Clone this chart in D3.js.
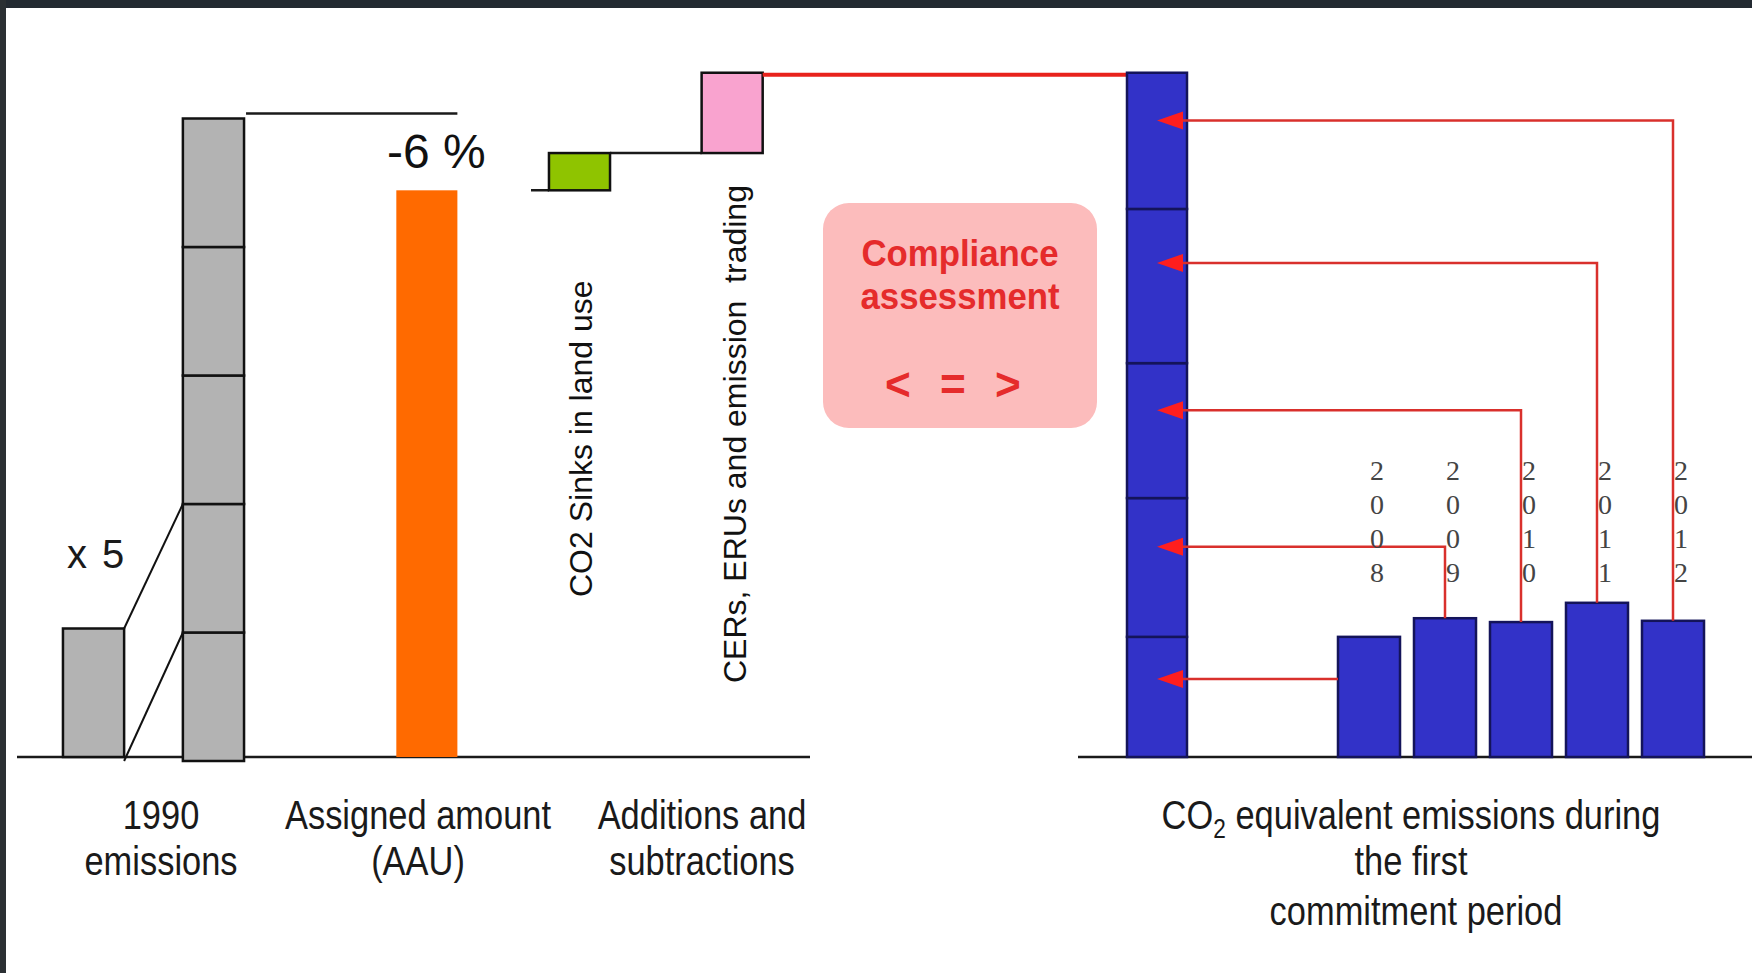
<!DOCTYPE html>
<html><head><meta charset="utf-8">
<script src="https://cdn.jsdelivr.net/npm/d3@7"></script>
<style>html,body{margin:0;padding:0;background:#fff;overflow:hidden}svg{display:block}</style>
</head><body>
<svg id="chart" width="1752" height="973"></svg>
<script>
// ---------------- data ----------------
const baseCategories = ["1990", "1990 x 5"];
const baseEmission = [100];
const fiveYearSegments = [100, 100, 100, 100, 100];
const waterfallCategories = ["AAU", "Sinks", "Trading"];
const waterfallValues = [441, 29, 62.5];
const years = ["2008", "2009", "2010", "2011", "2012"];
const yearValues = [93.5, 108, 105, 120, 106];
const reductionLabel = "-6 %";
const multiplierLabel = "x 5";
const leftAxisLabels = [["1990", "emissions"], ["Assigned amount", "(AAU)"], ["Additions and", "subtractions"]];
const rotatedLabels = ["CO2 Sinks in land use", "CERs, ERUs and emission\u00a0 trading"];
const rightAxisLines = ["the first", "commitment period"];
const complianceLabels = ["Compliance", "assessment", "<\u00a0=\u00a0>"];

// ---------------- scales ----------------
const svg = d3.select("#chart");
const FONT = "'Liberation Sans', Arial, Helvetica, sans-serif";
const y = d3.scaleLinear().domain([0, 100]).range([757, 628.5]);
const xBase = d3.scaleBand().domain(baseCategories).range([3, 304]).paddingInner(0.49).paddingOuter(0.5);
const xFall = d3.scaleBand().domain(waterfallCategories).range([320, 839]).paddingInner(0.6).paddingOuter(0.5);
const xTotal = d3.scaleBand().domain(["total"]).range([1127, 1187]);
const xYear = d3.scaleBand().domain(years).range([1331, 1711]).paddingInner(0.184).paddingOuter(0.092);

// ---------------- frame ----------------
svg.append("rect").attr("x", 0).attr("y", 0).attr("width", 1752).attr("height", 973).attr("fill", "#ffffff");
svg.append("rect").attr("x", 0).attr("y", 0).attr("width", 1752).attr("height", 8).attr("fill", "#232a31");
svg.append("rect").attr("x", 0).attr("y", 0).attr("width", 6).attr("height", 973).attr("fill", "#2b3033");

// ---------------- baselines ----------------
svg.append("line").attr("x1", 17).attr("x2", 810).attr("y1", y(0)).attr("y2", y(0))
  .attr("stroke", "#1a1a1a").attr("stroke-width", 2.5);
svg.append("line").attr("x1", 1078).attr("x2", 1752).attr("y1", y(0)).attr("y2", y(0))
  .attr("stroke", "#1a1a1a").attr("stroke-width", 2.5);

// ---------------- 1990 emissions ----------------
const bwB = xBase.bandwidth();
const tallOffset = 4;
svg.append("rect").attr("x", xBase("1990")).attr("y", y(baseEmission[0]))
  .attr("width", bwB).attr("height", y(0) - y(baseEmission[0]))
  .attr("fill", "#b3b3b3").attr("stroke", "#111").attr("stroke-width", 2.5);
const tallCum = d3.cumsum(fiveYearSegments);
svg.selectAll(".tall").data(fiveYearSegments).join("rect")
  .attr("x", xBase("1990 x 5"))
  .attr("y", (d, i) => y(tallCum[i]) + tallOffset)
  .attr("width", bwB)
  .attr("height", (d, i) => y(tallCum[i] - d) - y(tallCum[i]))
  .attr("fill", "#b3b3b3").attr("stroke", "#111").attr("stroke-width", 2.5);
// projection lines
const sx = xBase("1990") + bwB, tx = xBase("1990 x 5");
svg.append("line").attr("x1", sx).attr("y1", y(baseEmission[0])).attr("x2", tx).attr("y2", y(tallCum[1]) + tallOffset)
  .attr("stroke", "#111").attr("stroke-width", 2);
svg.append("line").attr("x1", sx).attr("y1", y(0) + tallOffset).attr("x2", tx).attr("y2", y(tallCum[0]) + tallOffset)
  .attr("stroke", "#111").attr("stroke-width", 2);
svg.append("text").attr("x", 67).attr("y", 568).attr("font-family", FONT).attr("font-size", 40)
  .attr("word-spacing", 4).attr("fill", "#1a1a1a").text(multiplierLabel);

// ---------------- waterfall ----------------
const bwF = xFall.bandwidth();
const fallCum = d3.cumsum(waterfallValues);
const fallStart = waterfallValues.map((d, i) => fallCum[i] - d);
const fallColors = ["#ff6a00", "#8fc400", "#f9a3cf"];
// -6% reference line at 1990 x5 level
svg.append("line").attr("x1", tx + bwB + 2).attr("x2", xFall("AAU") + bwF)
  .attr("y1", y(tallCum[4]) - 1).attr("y2", y(tallCum[4]) - 1)
  .attr("stroke", "#1a1a1a").attr("stroke-width", 2.5);
// connectors
waterfallCategories.slice(0, -1).forEach((c, i) => {
  const yy = y(fallCum[i]);
  svg.append("line").attr("x1", xFall(c) + bwF).attr("x2", xFall(waterfallCategories[i + 1]))
    .attr("y1", yy).attr("y2", yy).attr("stroke", "#1a1a1a").attr("stroke-width", 2.5);
});
// white label box for -6 %
svg.append("rect").attr("x", 380).attr("y", 120).attr("width", 151).attr("height", y(fallCum[0]) + 2 - 120)
  .attr("fill", "#ffffff");
svg.append("text").attr("x", 387).attr("y", 168).attr("font-family", FONT).attr("font-size", 48)
  .attr("fill", "#111").text(reductionLabel);
svg.selectAll(".fall").data(waterfallValues).join("rect")
  .attr("x", (d, i) => xFall(waterfallCategories[i]))
  .attr("y", (d, i) => y(fallCum[i]))
  .attr("width", bwF)
  .attr("height", (d, i) => y(fallStart[i]) - y(fallCum[i]))
  .attr("fill", (d, i) => fallColors[i])
  .attr("stroke", (d, i) => i === 0 ? "none" : "#111")
  .attr("stroke-width", 2.5);

// rotated labels
const rotX = [592, 746], rotY = [597, 683];
rotatedLabels.forEach((t, i) => {
  svg.append("text").attr("transform", `translate(${rotX[i]},${rotY[i]}) rotate(-90)`)
    .attr("font-family", FONT).attr("font-size", 32).attr("fill", "#111").text(t);
});

// ---------------- total emissions (stacked) ----------------
const yearCum = d3.cumsum(yearValues);
// red link from trading top to total
svg.append("line").attr("x1", xFall("Trading") + bwF).attr("x2", xTotal("total"))
  .attr("y1", y(fallCum[2]) + 2).attr("y2", y(fallCum[2]) + 2)
  .attr("stroke", "#e8221c").attr("stroke-width", 4);

svg.selectAll(".stack").data(yearValues).join("rect")
  .attr("x", xTotal("total"))
  .attr("y", (d, i) => y(yearCum[i]))
  .attr("width", xTotal.bandwidth())
  .attr("height", (d, i) => y(yearCum[i] - d) - y(yearCum[i]))
  .attr("fill", "#3232c8").attr("stroke", "#14145a").attr("stroke-width", 2.5);

// yearly bars
const bwY = xYear.bandwidth();
svg.selectAll(".year").data(yearValues).join("rect")
  .attr("x", (d, i) => xYear(years[i]))
  .attr("y", d => y(d))
  .attr("width", bwY)
  .attr("height", d => y(0) - y(d))
  .attr("fill", "#3232c8").attr("stroke", "#14145a").attr("stroke-width", 2.5);

// connectors with arrows
const tipX = xTotal("total") + xTotal.bandwidth() / 2;
const baseX = tipX + 26;
yearValues.forEach((d, i) => {
  const segTop = y(yearCum[i]), segBot = y(yearCum[i] - d);
  const ay = segTop + 0.35 * (segBot - segTop);
  const cx = xYear(years[i]) + bwY / 2;
  let p;
  if (ay > y(d)) p = `M${xYear(years[i])},${ay}H${baseX - 2}`;
  else p = `M${cx},${y(d)}V${ay}H${baseX - 2}`;
  svg.append("path").attr("d", p).attr("fill", "none").attr("stroke", "#d9302c").attr("stroke-width", 2.5);
  svg.append("path").attr("d", `M${tipX},${ay}L${baseX},${ay - 9}L${baseX},${ay + 9}Z`).attr("fill", "#ff1e1e");
});

// year labels (vertical digits)
years.forEach((yr, i) => {
  const cx = xYear(yr) + bwY / 2 + 8;
  const t = svg.append("text").attr("font-family", "'Liberation Serif', 'Times New Roman', serif")
    .attr("font-size", 28).attr("fill", "#444").attr("text-anchor", "middle");
  yr.split("").forEach((ch, k) => {
    t.append("tspan").attr("x", cx).attr("y", 480 + k * 34).text(ch);
  });
});

// ---------------- compliance box ----------------
svg.append("rect").attr("x", 823).attr("y", 203).attr("width", 274).attr("height", 225).attr("rx", 26)
  .attr("fill", "#fcbcbc");
const compY = [266, 309, 400], compSize = [37, 37, 47], compX = [960, 960, 953];
complianceLabels.forEach((t, i) => {
  svg.append("text").attr("transform", `translate(${compX[i]},${compY[i]}) scale(0.94,1)`)
    .attr("text-anchor", "middle").attr("font-family", FONT).attr("font-weight", "bold")
    .attr("font-size", compSize[i]).attr("fill", "#e52b2b")
    .attr("word-spacing", i === 2 ? 18 : 0).text(t);
});

// ---------------- category labels ----------------
const leftCx = [161, 418, 702];
leftAxisLabels.forEach((lines, i) => {
  lines.forEach((t, k) => {
    svg.append("text").attr("transform", `translate(${leftCx[i]},${829 + k * 46}) scale(0.84,1)`)
      .attr("text-anchor", "middle").attr("font-family", FONT).attr("font-size", 41)
      .attr("fill", "#1a1a1a").text(t);
  });
});
const r1 = svg.append("text").attr("transform", `translate(1411,829) scale(0.84,1)`)
  .attr("text-anchor", "middle").attr("font-family", FONT).attr("font-size", 41).attr("fill", "#1a1a1a");
r1.append("tspan").text("CO");
r1.append("tspan").attr("font-size", 27).attr("dy", 9).text("2");
r1.append("tspan").attr("dy", -9).text(" equivalent emissions during");
const rightCx = [1411, 1416], rightY = [875, 925];
rightAxisLines.forEach((t, k) => {
  svg.append("text").attr("transform", `translate(${rightCx[k]},${rightY[k]}) scale(0.84,1)`)
    .attr("text-anchor", "middle").attr("font-family", FONT).attr("font-size", 41)
    .attr("fill", "#1a1a1a").text(t);
});
</script>
</body></html>
